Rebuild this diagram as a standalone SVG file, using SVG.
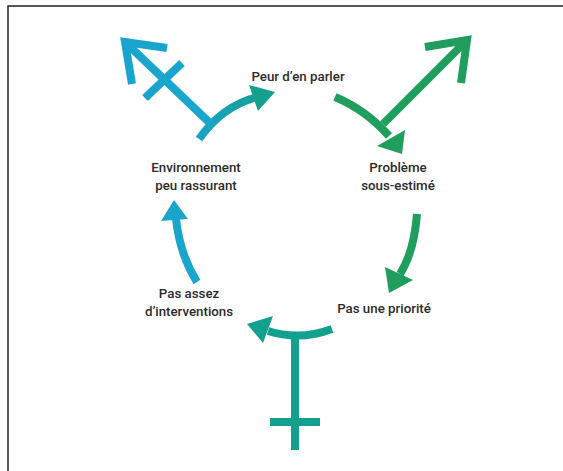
<svg xmlns="http://www.w3.org/2000/svg" width="563" height="471" viewBox="0 0 563 471">
<defs>
<linearGradient id="gTL" gradientUnits="userSpaceOnUse" x1="200" y1="138" x2="272" y2="92">
<stop offset="0" stop-color="#1aa3c8"/><stop offset="1" stop-color="#13a08f"/>
</linearGradient>
<style>
.t{font-family:Roboto,"Liberation Sans",sans-serif;font-weight:500;font-size:13.3px;fill:#2b2b2b;text-anchor:middle}
.s{fill:none;stroke-width:8;stroke-linecap:butt;stroke-linejoin:miter}
.blue{stroke:#1aa5cd}
.green{stroke:#1f9e5e}
.teal{stroke:#14a08f}
</style>
</defs>
<rect width="563" height="471" fill="#fff"/>
<path d="M8,471 V6 H563" fill="none" stroke="#222" stroke-width="1.5"/>
<g id="nodes">
<g id="peur"><text class="t" x="298" y="81">Peur d’en parler</text></g>
<g id="probleme"><text class="t" x="398" y="172">Problème</text><text class="t" x="398" y="190">sous-estimé</text></g>
<g id="priorite"><text class="t" x="384" y="313">Pas une priorité</text></g>
<g id="interventions"><text class="t" x="189" y="298">Pas assez</text><text class="t" x="189" y="316">d’interventions</text></g>
<g id="environnement"><text class="t" x="196" y="172">Environnement</text><text class="t" x="196" y="190">peu rassurant</text></g>
</g>
<g id="connectors">
<path class="s" stroke="url(#gTL)" d="M199,139 Q222,106 257,97"/>
<polygon points="275,92 249,85 258,111" fill="#13a08f"/>
<path class="s blue" d="M212,125 L125,42"/>
<polyline class="s blue" points="167,48 125,42 132,84"/>
<path class="s blue" d="M145,98 L182,63"/>
<path class="s green" d="M335,97 Q366,110 389,136"/>
<polygon points="402,154 377,146 405,130" fill="#1f9e5e"/>
<path class="s green" d="M383,124 L467,40"/>
<polyline class="s green" points="425,47 467,40 461,83"/>
<path class="s green" d="M417,214 Q414,252 400,274"/>
<polygon points="389,293 385,267 413,280" fill="#1f9e5e"/>
<path class="s teal" d="M332,329 Q300,341 268,331"/>
<polygon points="247,324 273,316 263,343" fill="#14a08f"/>
<path class="s teal" d="M295,335 V450"/>
<path class="s teal" d="M270,422 H320"/>
<path class="s blue" d="M197,282 Q180,255 176,219"/>
<polygon points="174,200 161,221 188,219" fill="#1aa5cd"/>
</g>
</svg>
